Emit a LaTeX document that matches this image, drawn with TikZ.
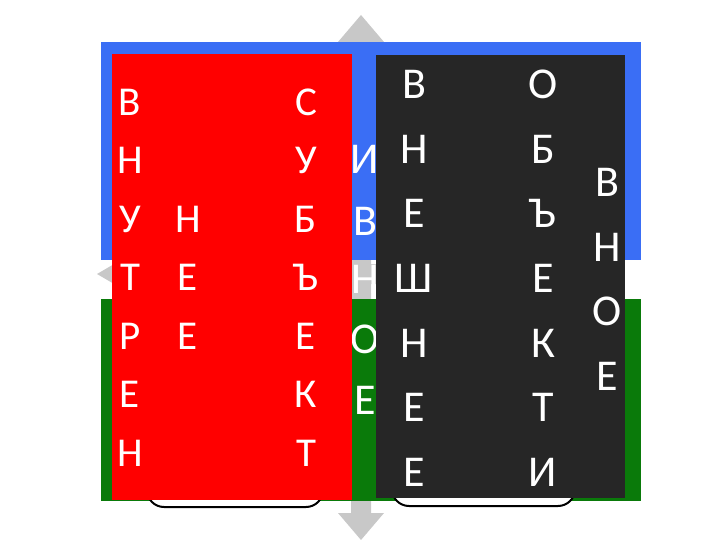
\documentclass[tikz,border=0pt]{standalone}
\usepackage{fontspec}
\setmainfont{Carlito}
\definecolor{bluebg}{RGB}{58,110,245}
\definecolor{greenbg}{RGB}{10,122,10}
\definecolor{darkp}{RGB}{38,38,38}
\definecolor{arrowgray}{RGB}{200,200,200}
\begin{document}
\begin{tikzpicture}[x=1pt,y=-1pt,
  redletter/.style={text=white,font=\fontsize{41}{41}\selectfont,inner sep=0pt,anchor=center},
  darkletter/.style={text=white,font=\fontsize{44}{44}\selectfont,inner sep=0pt,anchor=center},
  hiddenletter/.style={text=white,font=\fontsize{44}{44}\selectfont,inner sep=0pt,anchor=center},
  bracketbox/.style={draw=black,line width=2pt,rounded corners=17pt,fill=white}]
\useasboundingbox[fill=white] (0,0) rectangle (720,540);
% gray arrows
\fill[arrowgray] (361,15) -- (384,42) -- (371,42) -- (371,513) -- (384,513) -- (361,540)
  -- (338,513) -- (351,513) -- (351,42) -- (338,42) -- cycle;
\fill[arrowgray] (97,274) -- (121,260) -- (121,264) -- (600,264) -- (600,284) -- (121,284) -- (121,288) -- cycle;
% background bands
\fill[bluebg] (101,42) rectangle (641,260);
\fill[greenbg] (101,299) rectangle (641,501);
% partly hidden column
\foreach \t/\y [count=\i] in {И/159,В/221,Н/279,О/339,Е/400}
  \node[hiddenletter] (h\i) at (365,\y) {\t};
% hidden rounded boxes
\draw[bracketbox] (147,380) rectangle (323,507);
\draw[bracketbox] (392,380) rectangle (575,506);
% panels
\fill[red] (112,54) rectangle (352,500);
\fill[darkp] (376,55) rectangle (625,498);
% red panel letters
\foreach \t [count=\i from 0] in {В,Н,У,Т,Р,Е,Н}
  \node[redletter] (ra\i) at (130,102+58.5*\i) {\t};
\foreach \t [count=\i from 2] in {Н,Е,Е}
  \node[redletter] (rb\i) at (188,102+58.5*\i) {\t};
\foreach \t [count=\i from 0] in {С,У,Б,Ъ,Е,К,Т}
  \node[redletter] (rc\i) at (306,102+58.5*\i) {\t};
% dark panel letters
\foreach \t [count=\i from 0] in {В,Н,Е,Ш,Н,Е,Е}
  \node[darkletter] (da\i) at (414,84.5+64.6*\i) {\t};
\foreach \t [count=\i from 0] in {О,Б,Ъ,Е,К,Т,И}
  \node[darkletter] (db\i) at (543,84.5+64.6*\i) {\t};
\foreach \t [count=\i from 0] in {В,Н,О,Е}
  \node[darkletter] (dc\i) at (607,182.5+64.5*\i) {\t};
\end{tikzpicture}
\end{document}
